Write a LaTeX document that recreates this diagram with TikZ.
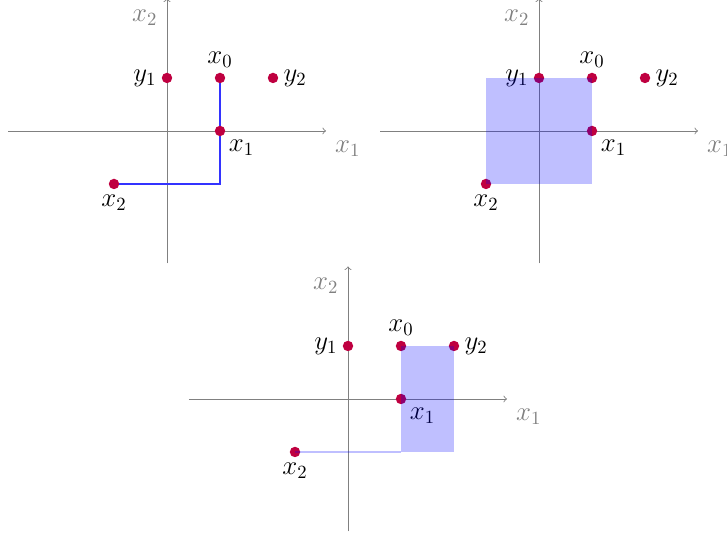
\documentclass[tikz,border=0pt]{standalone}
\begin{document}
\begin{tikzpicture}[x=1cm,y=1cm,
  axis/.style={gray, ->, line width=0.45pt},
  axlabel/.style={text=gray, font=\Large, inner sep=0pt},
  xlab/.style={axlabel, xshift=0.41cm, yshift=-0.33cm},
  ylab/.style={axlabel, xshift=-0.42cm, yshift=-0.37cm},
  pt/.style={circle, fill=purple, inner sep=0pt, minimum size=5.6pt},
  lab/.style={font=\Large, inner sep=2.5pt},
  shadefill/.style={fill=blue, fill opacity=0.25},
  pathline/.style={blue!80!white, line width=1pt},
]
\useasboundingbox (0,0) rectangle (13.717,10.094);
% ---------- panel 1 ----------
\begin{scope}[shift={(3.151,7.623)}]
  \coordinate (aL1) at (-3,0); \coordinate (aR1) at (3,0);
  \coordinate (aB1) at (0,-2.5); \coordinate (aT1) at (0,2.5);
  \draw[axis] (aL1) -- (aR1);
  \draw[axis] (aB1) -- (aT1);
  \node[xlab] (lx1a) at (aR1) {$x_1$};
  \node[ylab] (lx2a) at (aT1) {$x_2$};
  \coordinate (x0a) at (1,1); \coordinate (x1a) at (1,0); \coordinate (x2a) at (-1,-1);
  \coordinate (y1a) at (0,1); \coordinate (y2a) at (2,1);
  \draw[pathline] (x0a) -- (x1a) |- (x2a);
  \node[pt, label={[lab]above:$x_0$}] (p0a) at (x0a) {};
  \node[pt, label={[lab]below right:$x_1$}] (p1a) at (x1a) {};
  \node[pt, label={[lab]below:$x_2$}] (p2a) at (x2a) {};
  \node[pt, label={[lab]left:$y_1$}] (q1a) at (y1a) {};
  \node[pt, label={[lab]right:$y_2$}] (q2a) at (y2a) {};
\end{scope}
% ---------- panel 2 ----------
\begin{scope}[shift={(10.170,7.623)}]
  \coordinate (aL2) at (-3,0); \coordinate (aR2) at (3,0);
  \coordinate (aB2) at (0,-2.5); \coordinate (aT2) at (0,2.5);
  \draw[axis] (aL2) -- (aR2);
  \draw[axis] (aB2) -- (aT2);
  \node[xlab] (lx1b) at (aR2) {$x_1$};
  \node[ylab] (lx2b) at (aT2) {$x_2$};
  \coordinate (x0b) at (1,1); \coordinate (x1b) at (1,0); \coordinate (x2b) at (-1,-1);
  \coordinate (y1b) at (0,1); \coordinate (y2b) at (2,1);
  \node[pt, label={[lab]above:$x_0$}] (p0b) at (x0b) {};
  \node[pt, label={[lab]below right:$x_1$}] (p1b) at (x1b) {};
  \node[pt, label={[lab]below:$x_2$}] (p2b) at (x2b) {};
  \node[pt, label={[lab]left:$y_1$}] (q1b) at (y1b) {};
  \node[pt, label={[lab]right:$y_2$}] (q2b) at (y2b) {};
  \fill[shadefill] (x2b) rectangle (x0b);
\end{scope}
% ---------- panel 3 ----------
\begin{scope}[shift={(6.566,2.566)}]
  \coordinate (aL3) at (-3,0); \coordinate (aR3) at (3,0);
  \coordinate (aB3) at (0,-2.5); \coordinate (aT3) at (0,2.5);
  \draw[axis] (aL3) -- (aR3);
  \draw[axis] (aB3) -- (aT3);
  \node[xlab] (lx1c) at (aR3) {$x_1$};
  \node[ylab] (lx2c) at (aT3) {$x_2$};
  \coordinate (x0c) at (1,1); \coordinate (x1c) at (1,0); \coordinate (x2c) at (-1,-1);
  \coordinate (y1c) at (0,1); \coordinate (y2c) at (2,1);
  \coordinate (cc) at (1,-1); \coordinate (dc) at (2,-1);
  \node[pt, label={[lab]above:$x_0$}] (p0c) at (x0c) {};
  \node[pt, label={[lab]below right:$x_1$}] (p1c) at (x1c) {};
  \node[pt, label={[lab]below:$x_2$}] (p2c) at (x2c) {};
  \node[pt, label={[lab]left:$y_1$}] (q1c) at (y1c) {};
  \node[pt, label={[lab]right:$y_2$}] (q2c) at (y2c) {};
  \draw[blue, opacity=0.25, line width=1.2pt] (x2c) -- (cc);
  \fill[shadefill] (x0c) rectangle (dc);
\end{scope}
\end{tikzpicture}
\end{document}
